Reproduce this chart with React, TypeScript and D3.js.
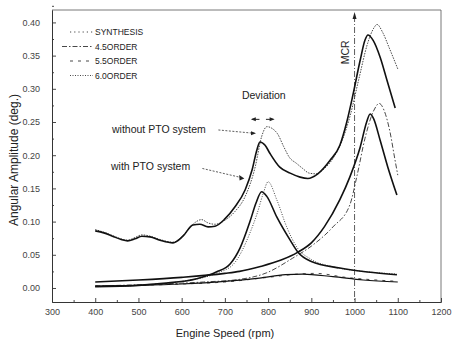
import React, { useEffect, useRef } from 'react';
import * as d3 from 'd3';

// rpm, amplitude (deg) pairs
const synWithPto: [number, number][] = [
  [400, 0.086], [420, 0.083], [440, 0.078], [460, 0.073], [475, 0.071], [492, 0.074], [508, 0.078],
  [527, 0.077], [550, 0.072], [580, 0.068], [603, 0.078], [626, 0.095], [642, 0.096], [661, 0.092],
  [677, 0.093], [700, 0.104], [723, 0.122], [747, 0.148], [763, 0.178], [774, 0.208], [781, 0.22],
  [793, 0.215], [804, 0.203], [827, 0.182], [851, 0.173], [874, 0.167], [892, 0.165], [915, 0.172],
  [943, 0.192], [966, 0.215], [982, 0.25], [996, 0.29], [1013, 0.343], [1024, 0.373], [1031, 0.381],
  [1043, 0.373], [1059, 0.348], [1075, 0.313], [1094, 0.271],
];
const synNoPto: [number, number][] = [
  [400, 0.088], [420, 0.084], [440, 0.079], [460, 0.074], [475, 0.072], [492, 0.076], [508, 0.08],
  [527, 0.078], [550, 0.073], [580, 0.069], [603, 0.079], [626, 0.096], [646, 0.103], [661, 0.098],
  [677, 0.096], [700, 0.102], [723, 0.115], [747, 0.138], [770, 0.182], [785, 0.228], [797, 0.243],
  [810, 0.24], [822, 0.232], [836, 0.213], [850, 0.196], [865, 0.188], [880, 0.18], [895, 0.173],
  [910, 0.172], [930, 0.18], [950, 0.195], [970, 0.22], [990, 0.26], [1010, 0.315], [1030, 0.368],
  [1045, 0.392], [1052, 0.397], [1065, 0.385], [1080, 0.362], [1100, 0.33],
];
const o45WithPto: [number, number][] = [
  [400, 0.009], [500, 0.012], [600, 0.016], [700, 0.022], [734, 0.025], [780, 0.032], [830, 0.042],
  [869, 0.054], [900, 0.068], [930, 0.092], [966, 0.133], [989, 0.167], [1013, 0.212], [1028, 0.25],
  [1036, 0.262], [1044, 0.255], [1059, 0.223], [1077, 0.182], [1098, 0.14],
];
const o45NoPto: [number, number][] = [
  [400, 0.003], [550, 0.006], [650, 0.009], [734, 0.013], [797, 0.023], [857, 0.045], [900, 0.063],
  [950, 0.092], [989, 0.125], [1006, 0.17], [1024, 0.225], [1045, 0.268], [1057, 0.278], [1068, 0.268],
  [1082, 0.235], [1093, 0.195], [1100, 0.17],
];
const o55WithPto: [number, number][] = [
  [400, 0.003], [500, 0.004], [600, 0.006], [700, 0.01], [780, 0.015], [840, 0.02], [880, 0.021],
  [950, 0.017], [1020, 0.012], [1100, 0.009],
];
const o55NoPto: [number, number][] = [
  [400, 0.003], [600, 0.006], [700, 0.009], [800, 0.016], [870, 0.021], [910, 0.022], [980, 0.016],
  [1100, 0.01],
];
const o60WithPto: [number, number][] = [
  [400, 0.002], [500, 0.004], [557, 0.007], [635, 0.014], [680, 0.024], [712, 0.036], [735, 0.06],
  [758, 0.1], [772, 0.128], [785, 0.145], [797, 0.138], [820, 0.107], [851, 0.072], [869, 0.054],
  [900, 0.04], [966, 0.03], [1030, 0.024], [1098, 0.02],
];
const o60NoPto: [number, number][] = [
  [400, 0.002], [500, 0.004], [600, 0.01], [680, 0.022], [720, 0.036], [758, 0.083], [775, 0.113],
  [789, 0.143], [800, 0.16], [820, 0.133], [843, 0.092], [866, 0.062], [900, 0.043], [950, 0.032],
  [1020, 0.025], [1098, 0.021],
];

const legendNames = ['SYNTHESIS', '4.5ORDER', '5.5ORDER', '6.0ORDER'];
const legendDash = ['1.2,3', '5,2,1.5,2', '3,5', '1,1.5'];
const xTicks = [300, 400, 500, 600, 700, 800, 900, 1000, 1100, 1200];
const yTicks = [0, 0.05, 0.1, 0.15, 0.2, 0.25, 0.3, 0.35, 0.4];
const mcrRpm = 1000;

const W = 452;
const H = 353;
const font = '"Liberation Sans", Arial, sans-serif';

const App = () => {
  const xAxisRef = useRef<SVGGElement>(null);
  const yAxisRef = useRef<SVGGElement>(null);

  const x = d3.scaleLinear().domain([300, 1200]).range([52, 441]);
  const y = d3.scaleLinear().domain([-0.0211, 0.4187]).range([302, 10]);

  const line = d3
    .line<[number, number]>()
    .x(d => x(d[0]))
    .y(d => y(d[1]))
    .curve(d3.curveMonotoneX);

  useEffect(() => {
    const gx = d3.select(xAxisRef.current);
    gx.selectAll('*').remove();
    gx.append('g').call(
      d3.axisBottom(x).tickValues(xTicks).tickSizeInner(-4).tickSizeOuter(0).tickPadding(7)
        .tickFormat(d3.format('d'))
    );
    gx.append('g').call(
      d3.axisBottom(x).tickValues(xTicks.slice(0, -1).map(v => v + 50)).tickSizeInner(-2)
        .tickSizeOuter(0).tickFormat(() => '')
    );
    const gy = d3.select(yAxisRef.current);
    gy.selectAll('*').remove();
    gy.append('g').call(
      d3.axisLeft(y).tickValues(yTicks).tickSizeInner(-4).tickSizeOuter(0).tickPadding(12)
        .tickFormat(d3.format('.2f'))
    );
    gy.append('g').call(
      d3.axisLeft(y).tickValues(yTicks.map(v => v + 0.025)).tickSizeInner(-2).tickSizeOuter(0)
        .tickFormat(() => '')
    );
    [gx, gy].forEach(g => {
      g.selectAll('text').attr('font-family', font).attr('font-size', 9).attr('fill', '#444');
      g.selectAll('path, line').attr('stroke', '#333').attr('stroke-width', 0.9);
    });
  }, []);

  const thick = { fill: 'none', stroke: '#111', strokeWidth: 1.6 };
  const thin = { fill: 'none', stroke: '#333', strokeWidth: 0.9 };

  const arrowHead = (px: number, py: number, dir: number) =>
    `M${px},${py} L${px - dir * 5},${py - 2} L${px - dir * 5},${py + 2} Z`;

  const xMcr = x(mcrRpm);

  return (
    <svg width={W} height={H} style={{ position: 'absolute', left: 0, top: 0, background: '#fff' }}>
      {/* frame */}
      <line x1={x(300)} x2={x(1200)} y1={y.range()[1]} y2={y.range()[1]} stroke="#555" strokeWidth={0.8} />
      <line x1={x(1200)} x2={x(1200)} y1={y.range()[1]} y2={y.range()[0]} stroke="#555" strokeWidth={0.8} />
      <g ref={xAxisRef} transform={`translate(0,${y.range()[0]})`} />
      <g ref={yAxisRef} transform={`translate(${x(300)},0)`} />

      {/* MCR marker */}
      <line x1={xMcr} x2={xMcr} y1={y.range()[1] + 6} y2={y.range()[0]} stroke="#333" strokeWidth={0.8}
        strokeDasharray="6,2,1,2" />
      <path d={`M${xMcr},${y.range()[1] + 2} L${xMcr - 2},${y.range()[1] + 9} L${xMcr + 2},${y.range()[1] + 9} Z`} fill="#222" />
      <text transform={`translate(${xMcr - 6},${y(0.355)}) rotate(-90)`} textAnchor="middle"
        fontFamily={font} fontSize={10.5} fill="#222">MCR</text>

      {/* without PTO system (thin) */}
      <path d={line(synNoPto) || ''} {...thin} strokeDasharray="1.5,1.2" />
      <path d={line(o45NoPto) || ''} {...thin} strokeDasharray={legendDash[1]} />
      <path d={line(o55NoPto) || ''} {...thin} strokeDasharray={legendDash[2]} />
      <path d={line(o60NoPto) || ''} {...thin} strokeDasharray={legendDash[3]} />

      {/* with PTO system (thick) */}
      <path d={line(synWithPto) || ''} {...thick} />
      <path d={line(o45WithPto) || ''} {...thick} />
      <path d={line(o55WithPto) || ''} {...thick} strokeWidth={1.2} />
      <path d={line(o60WithPto) || ''} {...thick} />

      {/* legend */}
      {legendNames.map((n, i) => (
        <g key={n} transform={`translate(0,${32 + i * 14.5})`}>
          <line x1={i === 1 ? 62 : 70} x2={93} y1={0} y2={0} stroke="#333" strokeWidth={0.9}
            strokeDasharray={legendDash[i]} />
          <text x={95} y={3.3} fontFamily={font} fontSize={8.5} fill="#222">{n}</text>
        </g>
      ))}

      {/* annotations */}
      <text x={x(790)} y={y(0.285)} textAnchor="middle" fontFamily={font} fontSize={10.5} fill="#222">Deviation</text>
      <line x1={x(780)} x2={x(763)} y1={y(0.254)} y2={y(0.254)} stroke="#222" strokeWidth={1} />
      <path d={arrowHead(x(760), y(0.254), -1)} fill="#222" />
      <line x1={x(795)} x2={x(812)} y1={y(0.254)} y2={y(0.254)} stroke="#222" strokeWidth={1} />
      <path d={arrowHead(x(815), y(0.254), 1)} fill="#222" />

      <text x={112} y={y(0.233)} fontFamily={font} fontSize={10.5} fill="#222">without PTO system</text>
      <line x1={x(685)} x2={x(768)} y1={y(0.238)} y2={y(0.233)} stroke="#333" strokeWidth={0.8} strokeDasharray="2,1.5" />
      <path d={arrowHead(x(772), y(0.233), 1)} fill="#222" />

      <text x={111} y={y(0.178)} fontFamily={font} fontSize={10.5} fill="#222">with PTO system</text>
      <line x1={x(648)} x2={x(740)} y1={y(0.18)} y2={y(0.166)} stroke="#333" strokeWidth={0.8} strokeDasharray="2,1.5" />
      <path d={`M${x(745)},${y(0.165)} L${x(733)},${y(0.170)} L${x(734)},${y(0.162)} Z`} fill="#222" />

      {/* axis titles */}
      <text x={225} y={337} textAnchor="middle" fontFamily={font} fontSize={11} fill="#222">Engine Speed (rpm)</text>
      <text transform="translate(18,160) rotate(-90)" textAnchor="middle" fontFamily={font} fontSize={12}
        fill="#222">Angular Amplitude (deg.)</text>
    </svg>
  );
};

export default App;
